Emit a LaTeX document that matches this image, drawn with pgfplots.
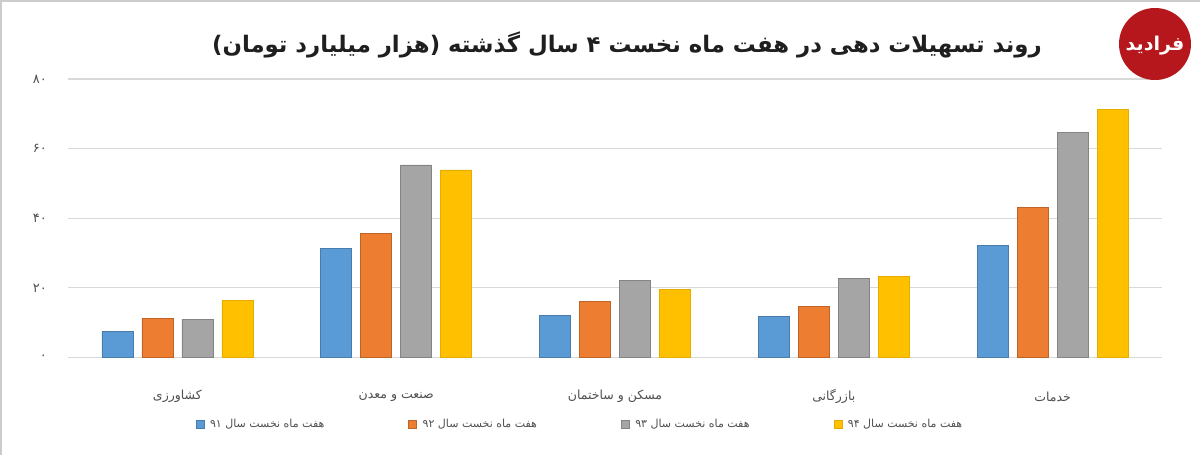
\documentclass[border=0pt]{standalone}
\usepackage{pgfplots}
\pgfplotsset{compat=1.18}
\usepackage{fontspec}
\setmainfont{DejaVu Sans}
\newfontfamily\fa[Script=Arabic]{DejaVu Sans}
\TeXXeTstate=1
\definecolor{cblue}{HTML}{5B9BD5}
\definecolor{corange}{HTML}{ED7D31}
\definecolor{cgray}{HTML}{A5A5A5}
\definecolor{cyellow}{HTML}{FFC000}
\definecolor{gridgray}{HTML}{D9D9D9}
\definecolor{labgray}{HTML}{505050}
\definecolor{titlegray}{HTML}{1F1F1F}
\definecolor{logored}{HTML}{B5171D}
\pgfplotsset{sq/.style={legend image code/.code={\draw[##1] (-3pt,-4pt) rectangle (5pt,4pt); \path[draw=none,fill=none] (5pt,0pt) -- (9pt,0pt);}}}
\begin{document}
\begin{tikzpicture}
\path[use as bounding box, fill=white] (0pt,0pt) rectangle (1200pt,455pt);
\draw[black!20, line width=1.5pt] (1pt,0pt) -- (1pt,454pt) -- (1200pt,454pt);
\begin{axis}[
  at={(68pt,97.5pt)}, anchor=south west,
  scale only axis, width=1094pt, height=278.5pt,
  xmin=-0.5, xmax=4.5, ymin=0, ymax=80,
  axis line style={draw=none}, tick style={draw=none},
  ymajorgrids, grid style={draw=gridgray, line width=1.2pt},
  ytick={0,20,40,60,80},
  yticklabels={{۰},{۲۰},{۴۰},{۶۰},{۸۰}},
  yticklabel style={font=\fa\fontsize{13}{14}\selectfont, text=labgray, anchor=east, inner sep=0pt, xshift=-21pt},
  xtick={0,1,2,3,4},
  xticklabels={{\beginR کشاورزی\endR},{\beginR صنعت و معدن\endR},{\beginR مسکن و ساختمان\endR},{\beginR بازرگانی\endR},{\beginR خدمات\endR}},
  xticklabel style={font=\fa\fontsize{12.5}{14}\selectfont, text=labgray, anchor=center, yshift=-35pt},
  ybar=9pt, bar width=31pt,
  legend columns=4,
  legend style={draw=none, fill=none, at={(0.468,-0.239)}, anchor=center,
    font=\fa\fontsize{11}{12}\selectfont, text=labgray,
    /tikz/every even column/.append style={column sep=82pt}},
]
\addplot[sq, fill=cblue, draw=cblue!80!black, line width=0.6pt] coordinates {(0,7.4) (1,31.3) (2,12.2) (3,11.7) (4,32.2)};
\addlegendentry{\beginR هفت ماه نخست سال ۹۱\endR}
\addplot[sq, fill=corange, draw=corange!80!black, line width=0.6pt] coordinates {(0,11.3) (1,35.7) (2,16.2) (3,14.6) (4,43.2)};
\addlegendentry{\beginR هفت ماه نخست سال ۹۲\endR}
\addplot[sq, fill=cgray, draw=cgray!80!black, line width=0.6pt] coordinates {(0,11.0) (1,55.3) (2,22.1) (3,22.8) (4,64.6)};
\addlegendentry{\beginR هفت ماه نخست سال ۹۳\endR}
\addplot[sq, fill=cyellow, draw=cyellow!90!black, line width=0.6pt] coordinates {(0,16.3) (1,53.9) (2,19.6) (3,23.4) (4,71.3)};
\addlegendentry{\beginR هفت ماه نخست سال ۹۴\endR}
\end{axis}
\node[font=\fa\bfseries\fontsize{22.8}{26}\selectfont, text=titlegray] at (627pt,410pt) {\beginR روند تسهیلات دهی در هفت ماه نخست ۴ سال گذشته (هزار میلیارد تومان)\endR};
\fill[logored] (1155pt,411pt) circle (36pt);
\node[font=\fa\bfseries\fontsize{19}{20}\selectfont, text=white] at (1155pt,409pt) {\beginR فرادید\endR};
\end{tikzpicture}
\end{document}
